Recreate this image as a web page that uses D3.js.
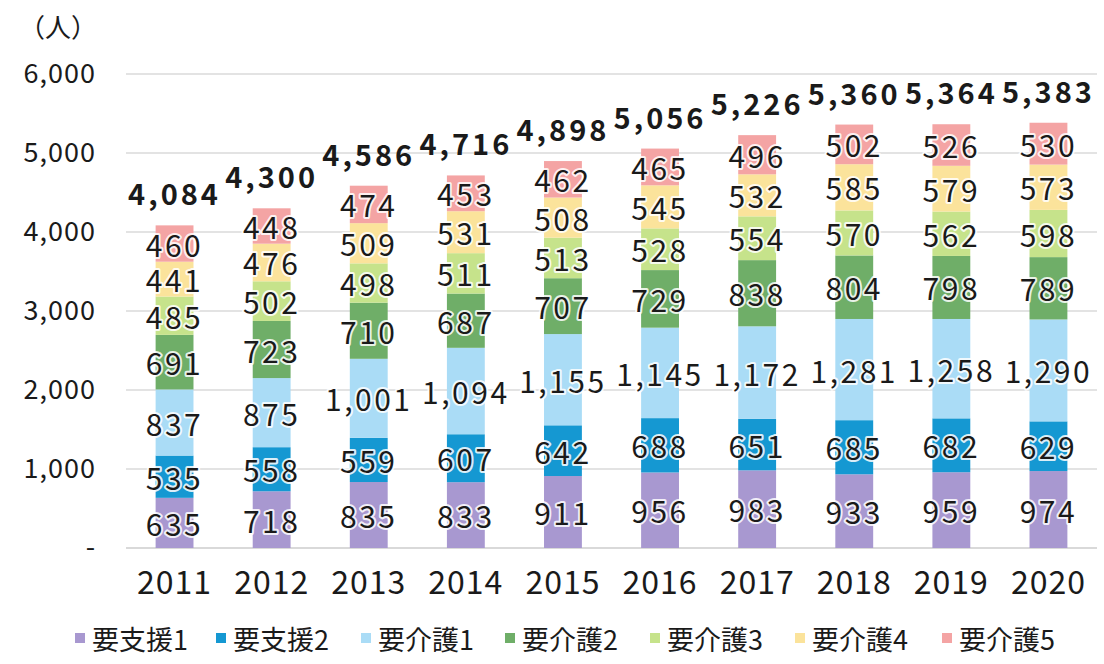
<!DOCTYPE html>
<html>
<head>
<meta charset="utf-8">
<script src="https://cdn.jsdelivr.net/npm/d3@7"></script>
<style>
  body { margin: 0; background: #fff; }
  text { font-family: "Noto Sans CJK JP", "Noto Sans", sans-serif; fill: #1a1a1a; }
</style>
</head>
<body>
<main></main>
<script>
const years = ["2011", "2012", "2013", "2014", "2015", "2016", "2017", "2018", "2019", "2020"];
const seriesNames = ["要支援1", "要支援2", "要介護1", "要介護2", "要介護3", "要介護4", "要介護5"];
const shien1 = [635, 718, 835, 833, 911, 956, 983, 933, 959, 974];
const shien2 = [535, 558, 559, 607, 642, 688, 651, 685, 682, 629];
const kaigo1 = [837, 875, 1001, 1094, 1155, 1145, 1172, 1281, 1258, 1290];
const kaigo2 = [691, 723, 710, 687, 707, 729, 838, 804, 798, 789];
const kaigo3 = [485, 502, 498, 511, 513, 528, 554, 570, 562, 598];
const kaigo4 = [441, 476, 509, 531, 508, 545, 532, 585, 579, 573];
const kaigo5 = [460, 448, 474, 453, 462, 465, 496, 502, 526, 530];
const yTicks = [0, 1000, 2000, 3000, 4000, 5000, 6000];
const colors = ["#a898d0", "#1598d2", "#aadcf6", "#6fae68", "#c6e38b", "#fbe39b", "#f4a4a4"];

const width = 1104;
const height = 664;

const rows = years.map((y, i) => ({
    year: y,
    "要支援1": shien1[i], "要支援2": shien2[i], "要介護1": kaigo1[i], "要介護2": kaigo2[i],
    "要介護3": kaigo3[i], "要介護4": kaigo4[i], "要介護5": kaigo5[i]
}));

const stacked = d3.stack().keys(seriesNames)(rows);

const xScale = d3.scaleBand()
    .domain(years)
    .range([126, 1097])
    .paddingInner(0.61)
    .paddingOuter(0.305);

const yScale = d3.scaleLinear()
    .domain([0, 6000])
    .range([548, 74]);

const svg = d3.select("main")
    .append("svg")
    .attr("width", width)
    .attr("height", height);

// gridlines
svg.append("g")
    .selectAll("line")
    .data(yTicks)
    .enter()
    .append("line")
    .attr("x1", 126)
    .attr("x2", 1097)
    .attr("y1", d => yScale(d))
    .attr("y2", d => yScale(d))
    .attr("stroke", d => d === 0 ? "#cccccc" : "#dadada")
    .attr("stroke-width", 1.5);

// y axis labels
const yAxis = d3.axisLeft(yScale)
    .tickValues(yTicks)
    .tickSize(0)
    .tickPadding(0)
    .tickFormat(d => d === 0 ? "-" : d3.format(",")(d));

svg.append("g")
    .attr("transform", "translate(96,0)")
    .call(yAxis)
    .call(g => g.select(".domain").remove())
    .selectAll("text")
    .attr("font-size", 27)
    .attr("fill", "#1a1a1a")
    .style("letter-spacing", "1px")
    .style("font-family", "'Noto Sans CJK JP', sans-serif");

svg.append("text")
    .attr("x", 58)
    .attr("y", 25)
    .attr("text-anchor", "middle")
    .attr("dominant-baseline", "central")
    .style("font-size", "26px")
    .text("（人）");

// bars
const layers = svg.append("g")
    .selectAll("g")
    .data(stacked)
    .enter()
    .append("g")
    .attr("fill", (d, i) => colors[i]);

layers.selectAll("rect")
    .data(d => d)
    .enter()
    .append("rect")
    .attr("x", d => xScale(d.data.year))
    .attr("y", d => yScale(d[1]))
    .attr("width", xScale.bandwidth())
    .attr("height", d => yScale(d[0]) - yScale(d[1]));

// segment labels
layers.selectAll("text")
    .data(d => d)
    .enter()
    .append("text")
    .attr("x", d => xScale(d.data.year) + xScale.bandwidth() / 2)
    .attr("y", d => yScale((d[0] + d[1]) / 2))
    .attr("text-anchor", "middle")
    .attr("dominant-baseline", "central")
    .style("font-size", "30px")
    .style("letter-spacing", "2.5px")
    .style("paint-order", "stroke")
    .attr("stroke", "rgba(255,255,255,0.85)")
    .attr("stroke-width", 4)
    .attr("stroke-linejoin", "round")
    .text(d => d3.format(",")(d[1] - d[0]));

// totals
const topLayer = stacked[stacked.length - 1];
svg.append("g")
    .selectAll("text")
    .data(topLayer)
    .enter()
    .append("text")
    .attr("x", d => xScale(d.data.year) + xScale.bandwidth() / 2)
    .attr("y", d => yScale(d[1]) - 20)
    .attr("text-anchor", "middle")
    .style("font-size", "29px")
    .style("font-weight", "bold")
    .style("letter-spacing", "3px")
    .text(d => d3.format(",")(d[1]));

// x axis labels
const xAxis = d3.axisBottom(xScale).tickSize(0).tickPadding(0);
svg.append("g")
    .attr("transform", "translate(0,580)")
    .call(xAxis)
    .call(g => g.select(".domain").remove())
    .selectAll("text")
    .attr("dy", null)
    .attr("dominant-baseline", "central")
    .attr("font-size", 32)
    .attr("fill", "#1a1a1a")
    .style("letter-spacing", "1px")
    .style("font-family", "'Noto Sans CJK JP', sans-serif");

// legend
const legendX = [75, 216, 361, 505, 650, 795, 942];
const legend = svg.append("g")
    .selectAll("g")
    .data(seriesNames)
    .enter()
    .append("g")
    .attr("transform", (d, i) => `translate(${legendX[i]}, 638)`);

legend.append("rect")
    .attr("x", 0)
    .attr("y", -5)
    .attr("width", 10)
    .attr("height", 10)
    .attr("fill", (d, i) => colors[i]);

legend.append("text")
    .attr("x", 17)
    .attr("y", 0)
    .attr("dominant-baseline", "central")
    .style("font-size", "27px")
    .text(d => d);
</script>
</body>
</html>
